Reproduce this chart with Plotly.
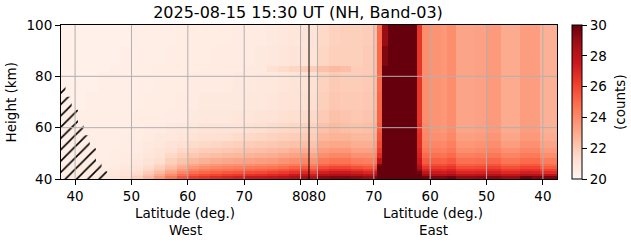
import plotly.graph_objects as go

# ---------------- data ----------------
height_edges = [40, 41, 42, 43, 44, 45, 46, 48, 50, 52, 55, 58, 62, 67, 74, 81.5, 84, 92, 100]

west_lat_edges = [37.5, 40, 42, 44, 46, 48, 50, 52, 54, 56, 58, 60, 62, 64, 66, 68, 70,
                  72, 74, 76, 78, 80, 81.5]
east_lat_edges = [81.5, 80, 78, 76, 74, 72, 70, 69.4, 68.5, 67.4, 62.4, 61.4, 60, 58, 57,
                  55.5, 52, 50, 47.5, 44, 42, 40.5, 37.5]

# column profiles, bottom (40 km) -> top (100 km)
west_profiles = [
    [20.6, 20.5, 20.5, 20.5, 20.5, 20.4, 20.4, 20.4, 20.4, 20.4, 20.4, 20.4, 20.4, 20.3, 20.3, 20.3, 20.3, 20.3],
    [20.6, 20.5, 20.5, 20.5, 20.5, 20.4, 20.4, 20.4, 20.4, 20.4, 20.4, 20.4, 20.4, 20.3, 20.3, 20.3, 20.3, 20.3],
    [20.7, 20.6, 20.6, 20.5, 20.5, 20.5, 20.4, 20.4, 20.4, 20.4, 20.4, 20.4, 20.4, 20.4, 20.3, 20.3, 20.3, 20.3],
    [20.8, 20.7, 20.6, 20.6, 20.5, 20.5, 20.5, 20.4, 20.4, 20.4, 20.4, 20.4, 20.4, 20.4, 20.4, 20.3, 20.3, 20.3],
    [21.0, 20.9, 20.8, 20.7, 20.6, 20.6, 20.5, 20.5, 20.5, 20.4, 20.4, 20.4, 20.4, 20.4, 20.4, 20.4, 20.3, 20.3],
    [21.3, 21.1, 21.0, 20.9, 20.8, 20.7, 20.6, 20.6, 20.5, 20.5, 20.5, 20.4, 20.4, 20.4, 20.4, 20.4, 20.4, 20.3],
    [21.8, 21.5, 21.3, 21.1, 21.0, 20.9, 20.8, 20.7, 20.6, 20.6, 20.5, 20.5, 20.5, 20.4, 20.4, 20.4, 20.4, 20.4],
    [22.6, 22.2, 21.9, 21.6, 21.4, 21.2, 21.0, 20.9, 20.8, 20.7, 20.6, 20.6, 20.5, 20.5, 20.4, 20.4, 20.4, 20.4],
    [23.5, 23.0, 22.5, 22.1, 21.8, 21.6, 21.3, 21.1, 21.0, 20.8, 20.7, 20.6, 20.5, 20.5, 20.5, 20.5, 20.4, 20.4],
    [24.5, 23.9, 23.3, 22.8, 22.4, 22.1, 21.8, 21.5, 21.2, 21.0, 20.8, 20.7, 20.6, 20.5, 20.5, 20.5, 20.5, 20.4],
    [25.5, 24.8, 24.1, 23.5, 23.0, 22.6, 22.2, 21.8, 21.5, 21.2, 20.9, 20.8, 20.6, 20.6, 20.5, 20.5, 20.5, 20.5],
    [26.2, 25.5, 24.8, 24.2, 23.6, 23.1, 22.6, 22.1, 21.7, 21.4, 21.1, 20.9, 20.7, 20.6, 20.6, 20.5, 20.5, 20.5],
    [26.5, 25.8, 25.1, 24.5, 23.9, 23.4, 22.8, 22.3, 21.9, 21.5, 21.2, 21.0, 20.8, 20.7, 20.6, 20.6, 20.5, 20.5],
    [26.8, 26.0, 25.3, 24.7, 24.1, 23.6, 23.0, 22.4, 22.0, 21.6, 21.2, 21.0, 20.8, 20.7, 20.6, 20.6, 20.6, 20.5],
    [27.0, 26.2, 25.5, 24.8, 24.2, 23.7, 23.1, 22.5, 22.1, 21.7, 21.3, 21.0, 20.8, 20.7, 20.6, 20.6, 20.6, 20.5],
    [27.2, 26.4, 25.6, 24.9, 24.3, 23.8, 23.2, 22.6, 22.2, 21.8, 21.4, 21.1, 20.9, 20.7, 20.7, 20.6, 20.6, 20.6],
    [27.5, 26.6, 25.8, 25.1, 24.5, 23.9, 23.3, 22.7, 22.3, 21.9, 21.5, 21.2, 20.9, 20.8, 20.7, 20.7, 20.6, 20.6],
    [27.6, 26.7, 25.9, 25.2, 24.6, 24.0, 23.4, 22.8, 22.4, 22.0, 21.6, 21.3, 21.0, 20.8, 20.8, 20.7, 20.7, 20.6],
    [27.8, 26.9, 26.1, 25.4, 24.7, 24.1, 23.5, 22.9, 22.5, 22.1, 21.7, 21.4, 21.1, 20.9, 20.8, 21.2, 20.8, 20.7],
    [28.0, 27.1, 26.3, 25.6, 24.9, 24.3, 23.7, 23.1, 22.6, 22.2, 21.8, 21.5, 21.2, 21.0, 20.9, 21.4, 20.9, 20.8],
    [28.4, 27.5, 26.6, 25.9, 25.2, 24.5, 23.9, 23.3, 22.8, 22.3, 21.9, 21.6, 21.3, 21.1, 21.0, 21.6, 21.0, 20.9],
    [28.7, 27.8, 26.9, 26.1, 25.4, 24.7, 24.1, 23.5, 22.9, 22.4, 22.0, 21.7, 21.4, 21.2, 21.1, 21.9, 21.1, 21.0],
]

east_profiles = [
    [28.2, 27.3, 26.4, 25.6, 24.9, 24.3, 23.7, 23.1, 22.6, 22.2, 21.9, 21.7, 21.5, 21.3, 21.2, 21.9, 21.1, 21.0],
    [29.3, 28.3, 27.3, 26.5, 25.8, 25.1, 24.5, 23.9, 23.4, 23.0, 22.6, 22.3, 22.0, 21.8, 21.7, 22.3, 21.6, 21.5],
    [29.5, 28.5, 27.5, 26.7, 26.0, 25.3, 24.7, 24.1, 23.6, 23.1, 22.7, 22.5, 22.3, 22.1, 22.0, 22.5, 21.8, 21.7],
    [29.5, 28.5, 27.5, 26.7, 26.0, 25.3, 24.7, 24.1, 23.6, 23.1, 22.7, 22.4, 22.2, 22.0, 21.9, 22.4, 21.8, 21.8],
    [29.3, 28.3, 27.3, 26.5, 25.7, 25.0, 24.4, 23.8, 23.3, 22.9, 22.6, 22.3, 22.1, 22.0, 21.9, 21.9, 21.8, 21.8],
    [29.0, 28.0, 27.0, 26.2, 25.5, 24.9, 24.3, 23.8, 23.3, 22.9, 22.6, 22.4, 22.2, 22.1, 22.0, 22.0, 22.0, 21.9],
    [29.5, 28.5, 27.5, 26.6, 25.8, 25.2, 24.6, 24.0, 23.6, 23.2, 22.9, 22.7, 22.5, 22.4, 22.3, 22.3, 22.3, 22.3],
    [31.0, 31.0, 31.0, 31.0, 30.5, 29.5, 28.0, 26.8, 26.3, 25.9, 25.6, 25.4, 25.2, 25.1, 25.0, 25.0, 25.0, 25.0],
    [31.0, 31.0, 31.0, 31.0, 31.0, 31.0, 31.0, 31.0, 31.0, 31.0, 31.0, 31.0, 31.0, 31.0, 31.0, 31.0, 29.5, 29.0],
    [31.0, 31.0, 31.0, 31.0, 31.0, 31.0, 31.0, 31.0, 31.0, 31.0, 31.0, 31.0, 31.0, 31.0, 31.0, 31.0, 31.0, 31.0],
    [30.5, 30.2, 29.8, 29.0, 28.5, 28.0, 27.5, 27.2, 27.0, 26.8, 26.7, 26.6, 26.5, 26.5, 26.5, 26.5, 26.5, 26.5],
    [29.8, 28.8, 27.8, 27.0, 26.4, 25.9, 25.4, 25.0, 24.6, 24.3, 24.1, 24.0, 23.9, 23.9, 23.9, 23.9, 23.9, 23.9],
    [29.6, 28.4, 27.5, 26.9, 26.3, 25.8, 25.3, 24.8, 24.4, 24.1, 23.85, 23.7, 23.7, 23.7, 23.7, 23.7, 23.7, 23.7],
    [29.5, 28.3, 27.4, 26.8, 26.2, 25.7, 25.2, 24.7, 24.3, 24.0, 23.75, 23.6, 23.6, 23.6, 23.6, 23.6, 23.6, 23.6],
    [29.8, 28.6, 27.7, 27.1, 26.5, 26.0, 25.5, 25.0, 24.6, 24.3, 24.05, 23.9, 23.9, 23.9, 23.9, 23.9, 23.9, 23.9],
    [29.1, 27.9, 27.0, 26.4, 25.8, 25.3, 24.8, 24.3, 23.9, 23.6, 23.35, 23.2, 23.2, 23.2, 23.2, 23.2, 23.2, 23.2],
    [29.2, 28.0, 27.1, 26.5, 25.9, 25.4, 24.9, 24.4, 24.0, 23.7, 23.45, 23.3, 23.3, 23.3, 23.3, 23.3, 23.3, 23.3],
    [29.4, 28.2, 27.3, 26.7, 26.1, 25.6, 25.1, 24.6, 24.2, 23.9, 23.65, 23.5, 23.5, 23.5, 23.5, 23.5, 23.5, 23.5],
    [29.0, 27.8, 26.9, 26.3, 25.7, 25.2, 24.7, 24.2, 23.8, 23.4, 23.15, 23.0, 23.0, 23.0, 23.0, 23.0, 23.0, 23.0],
    [29.9, 28.3, 27.3, 26.6, 26.0, 25.5, 25.0, 24.5, 24.1, 23.8, 23.55, 23.4, 23.4, 23.4, 23.4, 23.4, 23.4, 23.4],
    [29.5, 28.2, 27.2, 26.6, 26.0, 25.5, 25.0, 24.5, 24.1, 23.8, 23.55, 23.4, 23.4, 23.4, 23.4, 23.4, 23.4, 23.4],
    [29.6, 28.0, 26.8, 26.1, 25.4, 24.9, 24.4, 23.9, 23.5, 23.2, 22.95, 22.8, 22.8, 22.8, 22.8, 22.8, 22.8, 22.8],
]

# no-data (hatched) region on the west side
hatch_lat = [37.5, 45.7, 45.7, 44.7, 44.7, 43.7, 43.7, 42.6, 42.6, 41.5, 41.5, 40.5, 40.5, 39.4, 39.4, 38.3, 38.3, 37.5]
hatch_height = [40, 40, 43, 43, 47, 47, 52, 52, 57, 57, 62, 62, 67, 67, 72, 72, 77, 77]

west_ticks = [40, 50, 60, 70, 80]
east_ticks = [80, 70, 60, 50, 40]
height_ticks = [40, 60, 80, 100]
cbar_ticks = [20, 22, 24, 26, 28, 30]
zmin, zmax = 20, 30

title_text = "2025-08-15 15:30 UT (NH, Band-03)"

# ---------------- build ----------------
FOLD = 163.0  # east side is mirrored: coordinate = FOLD - latitude
DIVIDE = 81.5

x_edges = list(west_lat_edges) + [FOLD - v for v in east_lat_edges[1:]]
profiles = west_profiles + east_profiles
z = [[profiles[c][r] for c in range(len(profiles))] for r in range(len(height_edges) - 1)]

reds = [[0.0, "#fff5f0"], [0.125, "#fee0d2"], [0.25, "#fcbba1"], [0.375, "#fc9272"],
        [0.5, "#fb6a4a"], [0.625, "#ef3b2c"], [0.75, "#cb181d"], [0.875, "#a50f15"],
        [1.0, "#67000d"]]

FONT = "DejaVu Sans"
FS = 13.5

fig = go.Figure()
fig.add_trace(go.Heatmap(
    x=x_edges, y=height_edges, z=z, zmin=zmin, zmax=zmax, colorscale=reds,
    zsmooth=False, hoverinfo="skip",
    colorbar=dict(x=1.0302, xanchor="left", xpad=0, ypad=0, y=0.5, yanchor="middle",
                  len=1, lenmode="fraction", thickness=10, outlinewidth=1,
                  outlinecolor="black", tickvals=cbar_ticks, ticks="outside",
                  ticklen=5, tickcolor="black", tickfont=dict(family=FONT, size=FS, color="black")),
))

fig.add_trace(go.Scatter(
    x=hatch_lat, y=hatch_height, mode="lines", fill="toself",
    line=dict(width=0, color="rgba(0,0,0,0)"),
    fillcolor="rgba(0,0,0,0)",
    fillpattern=dict(shape="/", fgcolor="black", fgopacity=1, bgcolor="rgba(0,0,0,0)",
                     size=8, solidity=0.2),
    hoverinfo="skip", showlegend=False,
))

shapes = []
grid_color = "#b0b0b0"
for xv in west_ticks + [FOLD - t for t in east_ticks]:
    shapes.append(dict(type="line", xref="x", yref="y", x0=xv, x1=xv, y0=height_edges[0],
                       y1=height_edges[-1], line=dict(color=grid_color, width=1), layer="above"))
for yv in height_ticks[1:-1]:
    shapes.append(dict(type="line", xref="x", yref="y", x0=x_edges[0], x1=x_edges[-1], y0=yv,
                       y1=yv, line=dict(color=grid_color, width=1), layer="above"))
shapes.append(dict(type="line", xref="x", yref="y", x0=DIVIDE, x1=DIVIDE, y0=height_edges[0],
                   y1=height_edges[-1], line=dict(color="black", width=1), layer="above"))

west_mid = (west_lat_edges[0] + DIVIDE) / 2
east_mid = (DIVIDE + x_edges[-1]) / 2
tf = dict(family=FONT, size=FS, color="black")
annotations = [
    dict(x=west_mid, y=-0.22, xref="x", yref="paper", text="Latitude (deg.)", showarrow=False,
         font=tf, xanchor="center", yanchor="middle"),
    dict(x=west_mid, y=-0.33, xref="x", yref="paper", text="West", showarrow=False,
         font=tf, xanchor="center", yanchor="middle"),
    dict(x=east_mid, y=-0.22, xref="x", yref="paper", text="Latitude (deg.)", showarrow=False,
         font=tf, xanchor="center", yanchor="middle"),
    dict(x=east_mid, y=-0.33, xref="x", yref="paper", text="East", showarrow=False,
         font=tf, xanchor="center", yanchor="middle"),
    dict(x=-0.1, y=0.5, xref="paper", yref="paper", text="Height (km)", showarrow=False,
         font=tf, textangle=-90, xanchor="center", yanchor="middle"),
    dict(x=1.127, y=0.5, xref="paper", yref="paper", text="(counts)", showarrow=False,
         font=tf, textangle=-90, xanchor="center", yanchor="middle"),
]

fig.update_layout(
    width=631, height=243,
    margin=dict(l=61, r=74, t=25, b=64),
    paper_bgcolor="white", plot_bgcolor="white",
    font=dict(family=FONT, size=FS, color="black"),
    title=dict(text=title_text, x=298 / 631, xref="container", xanchor="center",
               y=1 - 12.5 / 243, yref="container", yanchor="middle",
               font=dict(family=FONT, size=16, color="black")),
    xaxis=dict(range=[x_edges[0], x_edges[-1]], tickvals=west_ticks + [FOLD - t for t in east_ticks],
               ticktext=[str(t) for t in west_ticks] + [str(t) for t in east_ticks],
               tickangle=0,
               showgrid=False, zeroline=False, showline=True, linecolor="black", linewidth=1,
               mirror=True, ticks="outside", ticklen=5, tickcolor="black", tickwidth=1,
               tickfont=tf),
    yaxis=dict(range=[height_edges[0], height_edges[-1]], tickvals=height_ticks,
               showgrid=False, zeroline=False, showline=True, linecolor="black", linewidth=1,
               mirror=True, ticks="outside", ticklen=5, tickcolor="black", tickwidth=1,
               tickfont=tf),
    shapes=shapes, annotations=annotations, showlegend=False,
)

fig.write_html("out.html")
